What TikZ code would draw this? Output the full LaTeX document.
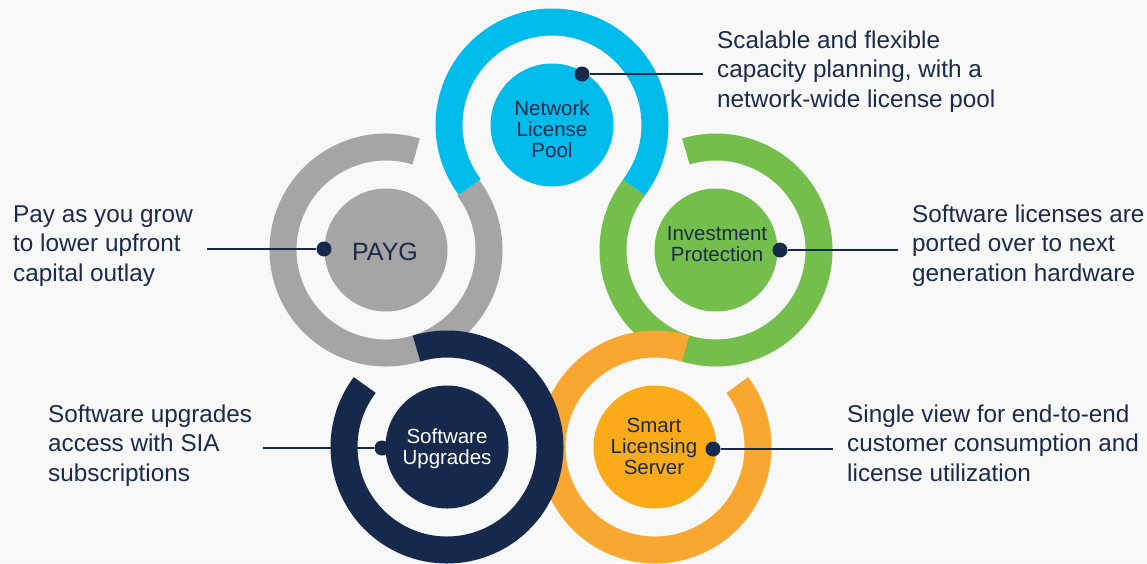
\documentclass[tikz,border=0pt]{standalone}
\usepackage{fontspec}
\setmainfont{Liberation Sans}
\definecolor{bgc}{RGB}{248,248,248}
\definecolor{navyc}{RGB}{21,41,76}
\definecolor{txtc}{RGB}{27,42,74}
\definecolor{cyanc}{RGB}{0,188,235}
\definecolor{greyc}{RGB}{165,165,165}
\definecolor{greenc}{RGB}{116,191,75}
\definecolor{orangec}{RGB}{248,168,48}
\definecolor{orangef}{RGB}{251,171,25}
\begin{document}
\begin{tikzpicture}[x=1pt,y=1pt,
  ring/.style={line width=27pt, line cap=butt},
  disc/.style={circle, inner sep=0pt, minimum size=123pt},
  dotn/.style={circle, fill=navyc, inner sep=0pt, minimum size=15pt},
  conn/.style={draw=navyc, line width=1.5pt},
  side/.style={font=\fontsize{24.3}{29.5}\selectfont, text=txtc, align=left, anchor=north west, inner sep=0pt},
  inlbl/.style={font=\fontsize{20.5}{21}\selectfont, align=center, anchor=north, inner sep=0pt}]
\fill[bgc] (0,0) rectangle (1147,-563);
\useasboundingbox (0,0) rectangle (1147,-563);
% rings
\draw[ring, greenc] (716,-250) ++(142.7:103) arc[start angle=142.7, end angle=467, radius=103];
\draw[ring, orangec] (655,-447) ++(72.8:103) arc[start angle=72.8, end angle=397, radius=103];
\draw[ring, greyc] (386,-250) ++(73:103) arc[start angle=73, end angle=397, radius=103];
\draw[ring, navyc] (447,-447) ++(143:103) arc[start angle=143, end angle=467.2, radius=103];
\draw[ring, cyanc] (552,-125) ++(-37.3:103) arc[start angle=-37.3, end angle=217, radius=103];
% discs
\node[disc, fill=cyanc] (cnlp) at (552,-125) {};
\node[disc, fill=greyc] (cpay) at (386,-250) {};
\node[disc, fill=greenc] (cinv) at (716,-250) {};
\node[disc, fill=navyc] (csw) at (447,-447) {};
\node[disc, fill=orangef] (csls) at (655,-447) {};
% labels in discs
\node[inlbl, text=txtc] (tnlp) at (552,-100.5) {Network\\License\\Pool};
\node[font=\fontsize{25}{29}\selectfont, anchor=base, inner sep=0pt, text=txtc] (tpay) at (385,-260) {PAYG};
\node[inlbl, text=txtc] (tinv) at (717,-226.5) {Investment\\Protection};
\node[inlbl, text=white] (tsw) at (447,-428.5) {Software\\Upgrades};
\node[inlbl, text=txtc] (tsls) at (654,-417.5) {Smart\\Licensing\\Server};
% dots and connectors
\node[dotn] (dnlp) at (582,-74) {};
\coordinate (enlp) at (703,-74);
\node[dotn] (dpay) at (324,-249) {};
\coordinate (epay) at (207,-249);
\node[dotn] (dinv) at (780,-250) {};
\coordinate (einv) at (898,-250);
\node[dotn] (dsw) at (382,-448) {};
\coordinate (esw) at (263,-448);
\node[dotn] (dsls) at (713,-449) {};
\coordinate (esls) at (833,-449);
\draw[conn] (dnlp) -- (enlp);
\draw[conn] (dpay) -- (epay);
\draw[conn] (dinv) -- (einv);
\draw[conn] (dsw) -- (esw);
\draw[conn] (dsls) -- (esls);
% side texts
\node[side] (snlp) at (717,-30.5) {Scalable and flexible\\capacity planning, with a\\network-wide license pool};
\node[side] (spay) at (13,-205.5) {Pay as you grow\\to lower upfront\\capital outlay};
\node[side] (ssw) at (48,-404.5) {Software upgrades\\access with SIA\\subscriptions};
\node[side] (sinv) at (912,-204.5) {Software licenses are\\ported over to next\\generation hardware};
\node[side] (ssls) at (847,-404.5) {Single view for end-to-end\\customer consumption and\\license utilization};
\end{tikzpicture}
\end{document}
